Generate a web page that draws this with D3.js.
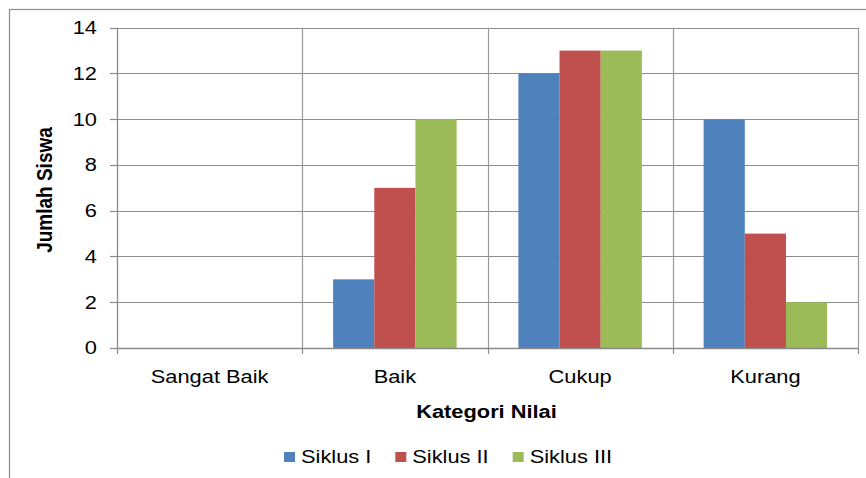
<!DOCTYPE html>
<html><head><meta charset="utf-8">
<script src="https://cdn.jsdelivr.net/npm/d3@7"></script>
<style>body{margin:0;background:#fff}svg{display:block}text{font-family:"Liberation Sans",Arial,sans-serif;fill:#000}</style>
</head><body>
<svg id="c" width="866" height="478"></svg>
<script>
const categories = ["Sangat Baik", "Baik", "Cukup", "Kurang"];
const seriesNames = ["Siklus I", "Siklus II", "Siklus III"];
const siklus1 = [0, 3, 12, 10];
const siklus2 = [0, 7, 13, 5];
const siklus3 = [0, 10, 13, 2];
const yTicks = [0, 2, 4, 6, 8, 10, 12, 14];
const colors = ["#4F81BD", "#C0504D", "#9BBB59"];
const xTitle = "Kategori Nilai";
const yTitle = "Jumlah Siswa";

const values = [siklus1, siklus2, siklus3];
const SX = 1.18; // horizontal stretch of text in reference
const FS = 18.5;
const svg = d3.select("#c");
const L = 117, R = 858, T = 27.7, B = 348;

// outer frame
svg.append("rect").attr("x", 9.5).attr("y", 9.5).attr("width", 900).attr("height", 500)
  .attr("fill", "none").attr("stroke", "#8c8c8c").attr("stroke-width", 1.2);

const x0 = d3.scaleBand().domain(categories).range([L, R]).padding(0);
const x1 = d3.scaleBand().domain(seriesNames).range([0, x0.bandwidth()]).paddingInner(0).paddingOuter(0.75);
const y = d3.scaleLinear().domain([0, 14]).range([B, T]);

const grid = svg.append("g");
grid.selectAll("line.h").data(yTicks.filter(d => d > 0)).join("line")
  .attr("x1", L).attr("x2", R).attr("y1", d => Math.round(y(d)) + 0.5).attr("y2", d => Math.round(y(d)) + 0.5)
  .attr("stroke", "#8e8e8e").attr("stroke-width", 1);
const bounds = categories.map(c => x0(c)).concat([R]);
grid.selectAll("line.v").data(bounds.slice(1)).join("line")
  .attr("x1", d => Math.round(d) + 0.5).attr("x2", d => Math.round(d) + 0.5).attr("y1", T).attr("y2", B)
  .attr("stroke", "#9a9a9a").attr("stroke-width", 1.2);

// bars
const gCat = svg.append("g").selectAll("g").data(categories).join("g")
  .attr("transform", c => `translate(${x0(c)},0)`);
gCat.selectAll("rect").data((c, i) => seriesNames.map((s, j) => ({ s, v: values[j][i], j })))
  .join("rect")
  .attr("x", d => x1(d.s)).attr("width", x1.bandwidth())
  .attr("y", d => y(d.v)).attr("height", d => B - y(d.v))
  .attr("fill", d => colors[d.j]);

// axes lines
svg.append("line").attr("x1", L + 0.5).attr("x2", L + 0.5).attr("y1", T).attr("y2", B)
  .attr("stroke", "#8a8a8a").attr("stroke-width", 1.3);
svg.append("line").attr("x1", L).attr("x2", R).attr("y1", B + 0.5).attr("y2", B + 0.5)
  .attr("stroke", "#8a8a8a").attr("stroke-width", 1.3);
svg.selectAll("line.yt").data(yTicks).join("line")
  .attr("x1", 110).attr("x2", L).attr("y1", d => Math.round(y(d)) + 0.5).attr("y2", d => Math.round(y(d)) + 0.5)
  .attr("stroke", "#8a8a8a").attr("stroke-width", 1.2);
svg.selectAll("line.xt").data(bounds).join("line")
  .attr("x1", d => Math.round(d) + 0.5).attr("x2", d => Math.round(d) + 0.5).attr("y1", B).attr("y2", 354)
  .attr("stroke", "#8a8a8a").attr("stroke-width", 1.2);

function stext(xp, yp, str, anchor, opts = {}) {
  const g = svg.append("g").attr("transform", `translate(${xp},${yp}) scale(${SX},1)` + (opts.rot ? ` rotate(${opts.rot})` : ""));
  const t = g.append("text").attr("text-anchor", anchor).attr("font-size", opts.size || FS)
    .attr("font-weight", opts.bold ? "bold" : "normal").text(str);
  if (opts.dy) t.attr("dy", opts.dy);
  return t;
}

yTicks.forEach(d => stext(97, y(d), String(d), "end", { dy: "0.35em" }));
categories.forEach(c => stext(x0(c) + x0.bandwidth() / 2, 382.5, c, "middle"));
stext((L + R) / 2 - 1, 418, xTitle, "middle", { bold: true });
stext(52, 190, yTitle, "middle", { bold: true, rot: -90, size: 19 });

// legend
let lx = 284;
seriesNames.forEach((s, j) => {
  svg.append("rect").attr("x", lx).attr("y", 452).attr("width", 11).attr("height", 10).attr("fill", colors[j]);
  const t = stext(lx + 17, 463, s, "start");
  const w = t.node().getComputedTextLength() * SX;
  lx = lx + 17 + w + 24;
});
</script>
</body></html>
